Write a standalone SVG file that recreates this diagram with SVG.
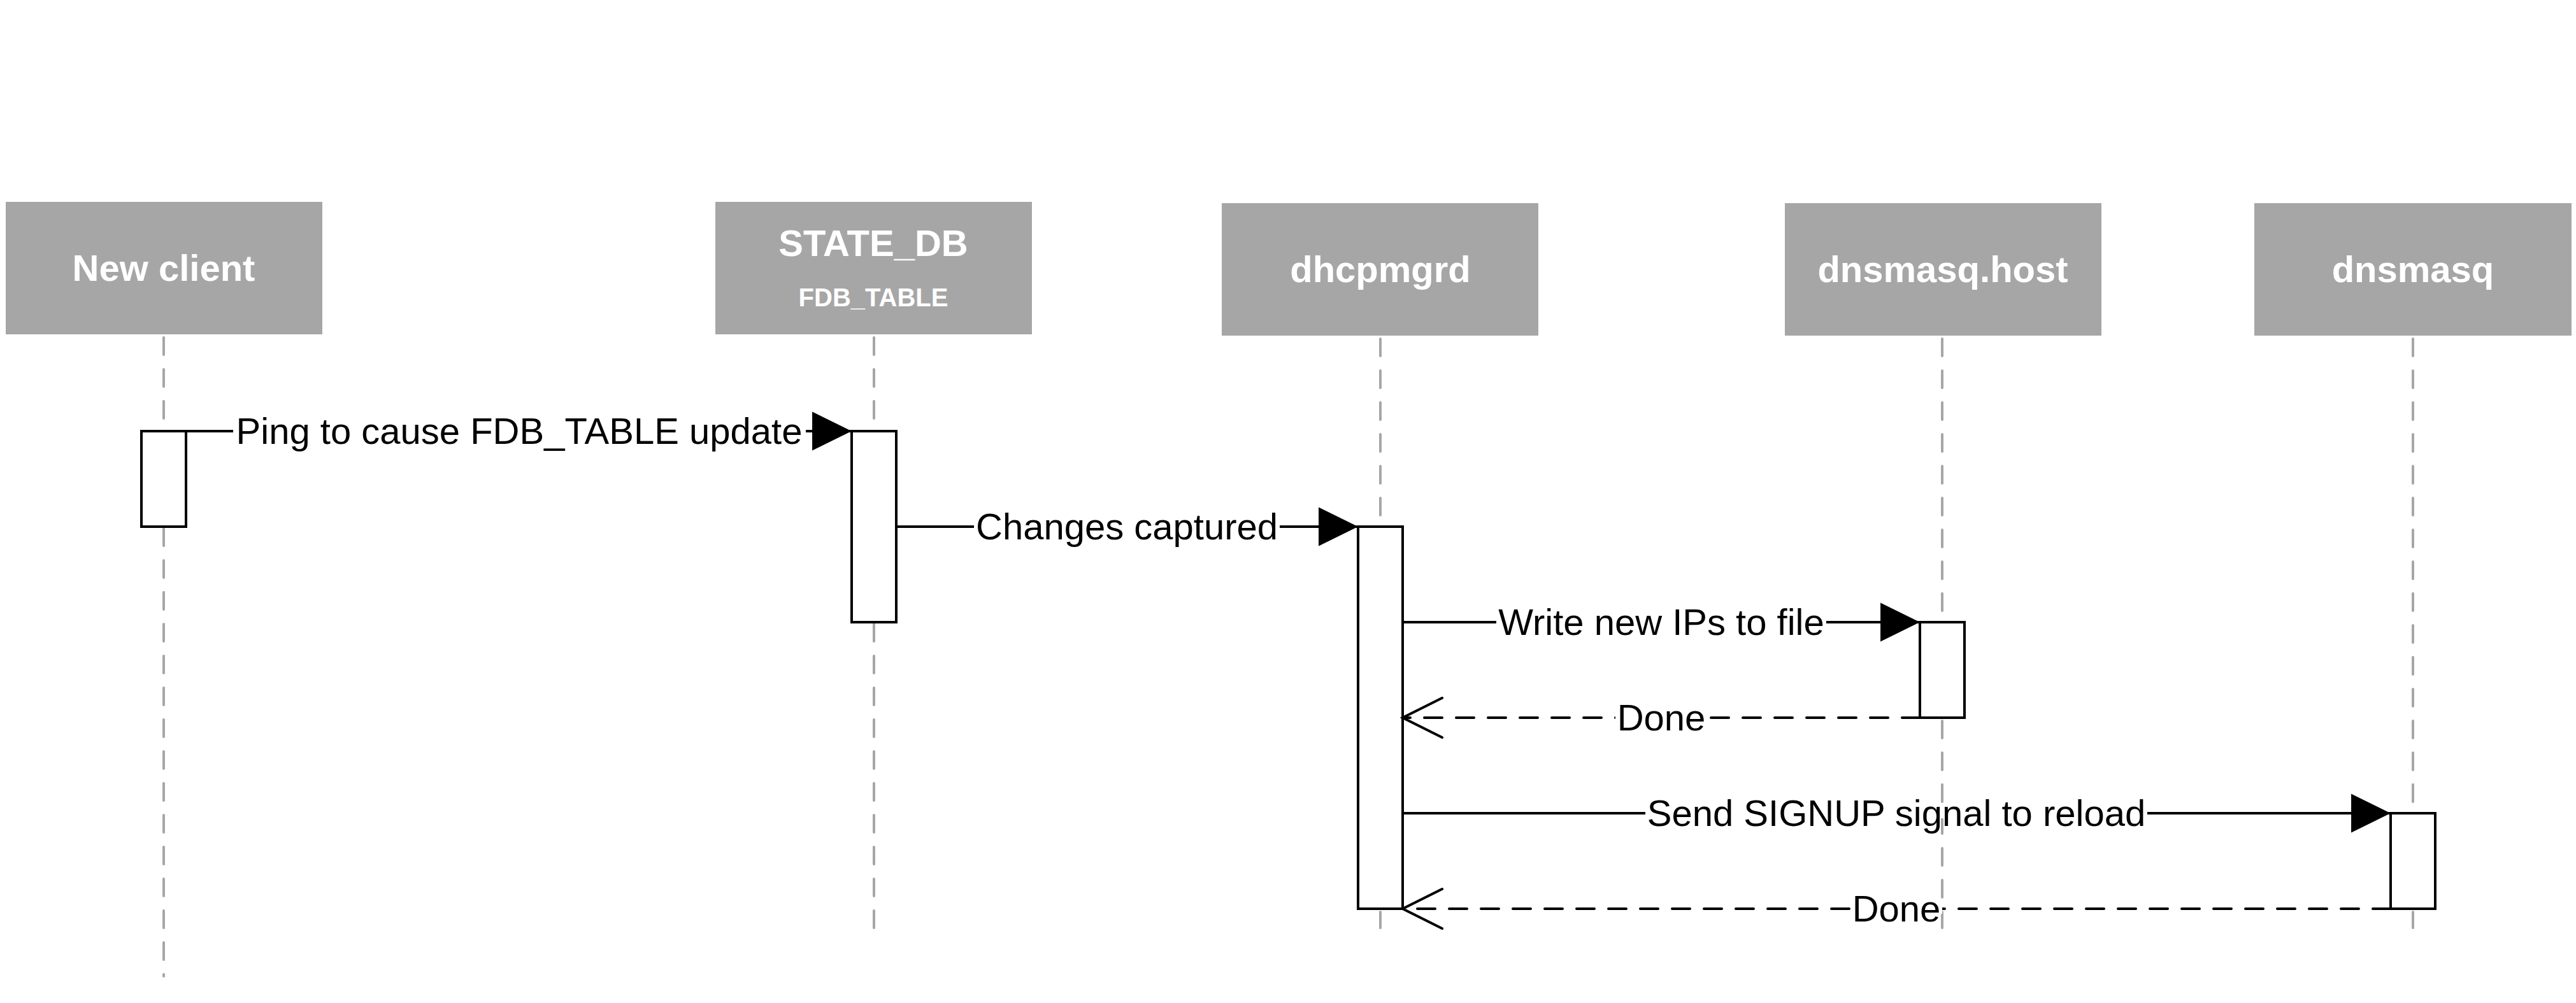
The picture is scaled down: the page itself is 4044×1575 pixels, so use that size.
<svg xmlns="http://www.w3.org/2000/svg" width="4044" height="1575" viewBox="0 0 4044 1575">
  <style>
    .hdr { fill: #a6a6a6; }
    .hdrtxt { font-family: "Liberation Sans", Arial, sans-serif; font-weight: bold; fill: #ffffff; text-anchor: middle; font-size: 58px; }
    .sub { font-size: 40px; }
    .life { stroke: #a6a6a6; stroke-width: 4; stroke-dasharray: 27 23; stroke-linecap: round; fill: none; }
    .act { fill: #ffffff; stroke: #000000; stroke-width: 4; }
    .msg { stroke: #000000; stroke-width: 4; fill: none; }
    .ret { stroke: #000000; stroke-width: 4; fill: none; stroke-dasharray: 28 22; stroke-linecap: round; }
    .gap { fill: #ffffff; }
    .lbl { font-family: "Liberation Sans", Arial, sans-serif; font-size: 58px; fill: #000000; text-anchor: middle; }
  </style>
  <defs>
    <marker id="solidHead" markerUnits="userSpaceOnUse" markerWidth="64" markerHeight="64" viewBox="-62 -31 63 62" refX="0" refY="0" orient="auto">
      <polygon points="0,0 -61,-30 -61,30" fill="#000000"/>
    </marker>
    <marker id="openHead" markerUnits="userSpaceOnUse" markerWidth="70" markerHeight="72" viewBox="-66 -35 70 70" refX="0" refY="0" orient="auto">
      <path d="M-62,-31 L0,0 L-62,31" fill="none" stroke="#000000" stroke-width="4" stroke-linecap="round"/>
    </marker>
  </defs>

  <rect width="4044" height="1575" fill="#ffffff"/>

  <g id="lifelines">
    <line class="life" x1="257" y1="530" x2="257" y2="1533"/>
    <line class="life" x1="1372" y1="530" x2="1372" y2="1457"/>
    <line class="life" x1="2167" y1="532" x2="2167" y2="1457"/>
    <line class="life" x1="3049" y1="532" x2="3049" y2="1457"/>
    <line class="life" x1="3788" y1="532" x2="3788" y2="1457"/>
  </g>

  <g id="node-new-client">
    <rect class="hdr" x="9" y="317" width="497" height="208"/>
    <text class="hdrtxt" x="257" y="441">New client</text>
    <rect class="act" x="222" y="677" width="70" height="150"/>
  </g>

  <g id="node-state-db">
    <rect class="hdr" x="1123" y="317" width="497" height="208"/>
    <text class="hdrtxt" x="1371" y="402">STATE_DB</text>
    <text class="hdrtxt sub" x="1371" y="481">FDB_TABLE</text>
    <rect class="act" x="1337" y="677" width="70" height="300"/>
  </g>

  <g id="node-dhcpmgrd">
    <rect class="hdr" x="1918" y="319" width="497" height="208"/>
    <text class="hdrtxt" x="2167" y="443">dhcpmgrd</text>
    <rect class="act" x="2132" y="827" width="70" height="600"/>
  </g>

  <g id="node-dnsmasq-host">
    <rect class="hdr" x="2802" y="319" width="497" height="208"/>
    <text class="hdrtxt" x="3050" y="443">dnsmasq.host</text>
    <rect class="act" x="3014" y="977" width="70" height="150"/>
  </g>

  <g id="node-dnsmasq">
    <rect class="hdr" x="3539" y="319" width="498" height="208"/>
    <text class="hdrtxt" x="3788" y="443">dnsmasq</text>
    <rect class="act" x="3753" y="1277" width="70" height="150"/>
  </g>

  <g id="connectors">
    <line class="msg" x1="292" y1="677" x2="1337" y2="677" marker-end="url(#solidHead)"/>
    <rect class="gap" x="366" y="669" width="899" height="16"/>
    <text class="lbl" x="815" y="697">Ping to cause FDB_TABLE update</text>

    <line class="msg" x1="1407" y1="827" x2="2132" y2="827" marker-end="url(#solidHead)"/>
    <rect class="gap" x="1529" y="819" width="480" height="16"/>
    <text class="lbl" x="1769" y="847">Changes captured</text>

    <line class="msg" x1="2202" y1="977" x2="3014" y2="977" marker-end="url(#solidHead)"/>
    <rect class="gap" x="2349" y="969" width="518" height="16"/>
    <text class="lbl" x="2608" y="997">Write new IPs to file</text>

    <line class="ret" x1="3014" y1="1127" x2="2202" y2="1127" marker-end="url(#openHead)"/>
    <rect class="gap" x="2536" y="1119" width="144" height="16"/>
    <text class="lbl" x="2608" y="1147">Done</text>

    <line class="msg" x1="2202" y1="1277" x2="3753" y2="1277" marker-end="url(#solidHead)"/>
    <rect class="gap" x="2583" y="1269" width="788" height="16"/>
    <text class="lbl" x="2977" y="1297">Send SIGNUP signal to reload</text>

    <line class="ret" x1="3753" y1="1427" x2="2202" y2="1427" marker-end="url(#openHead)"/>
    <rect class="gap" x="2905" y="1419" width="144" height="16"/>
    <text class="lbl" x="2977" y="1447">Done</text>
  </g>
</svg>
